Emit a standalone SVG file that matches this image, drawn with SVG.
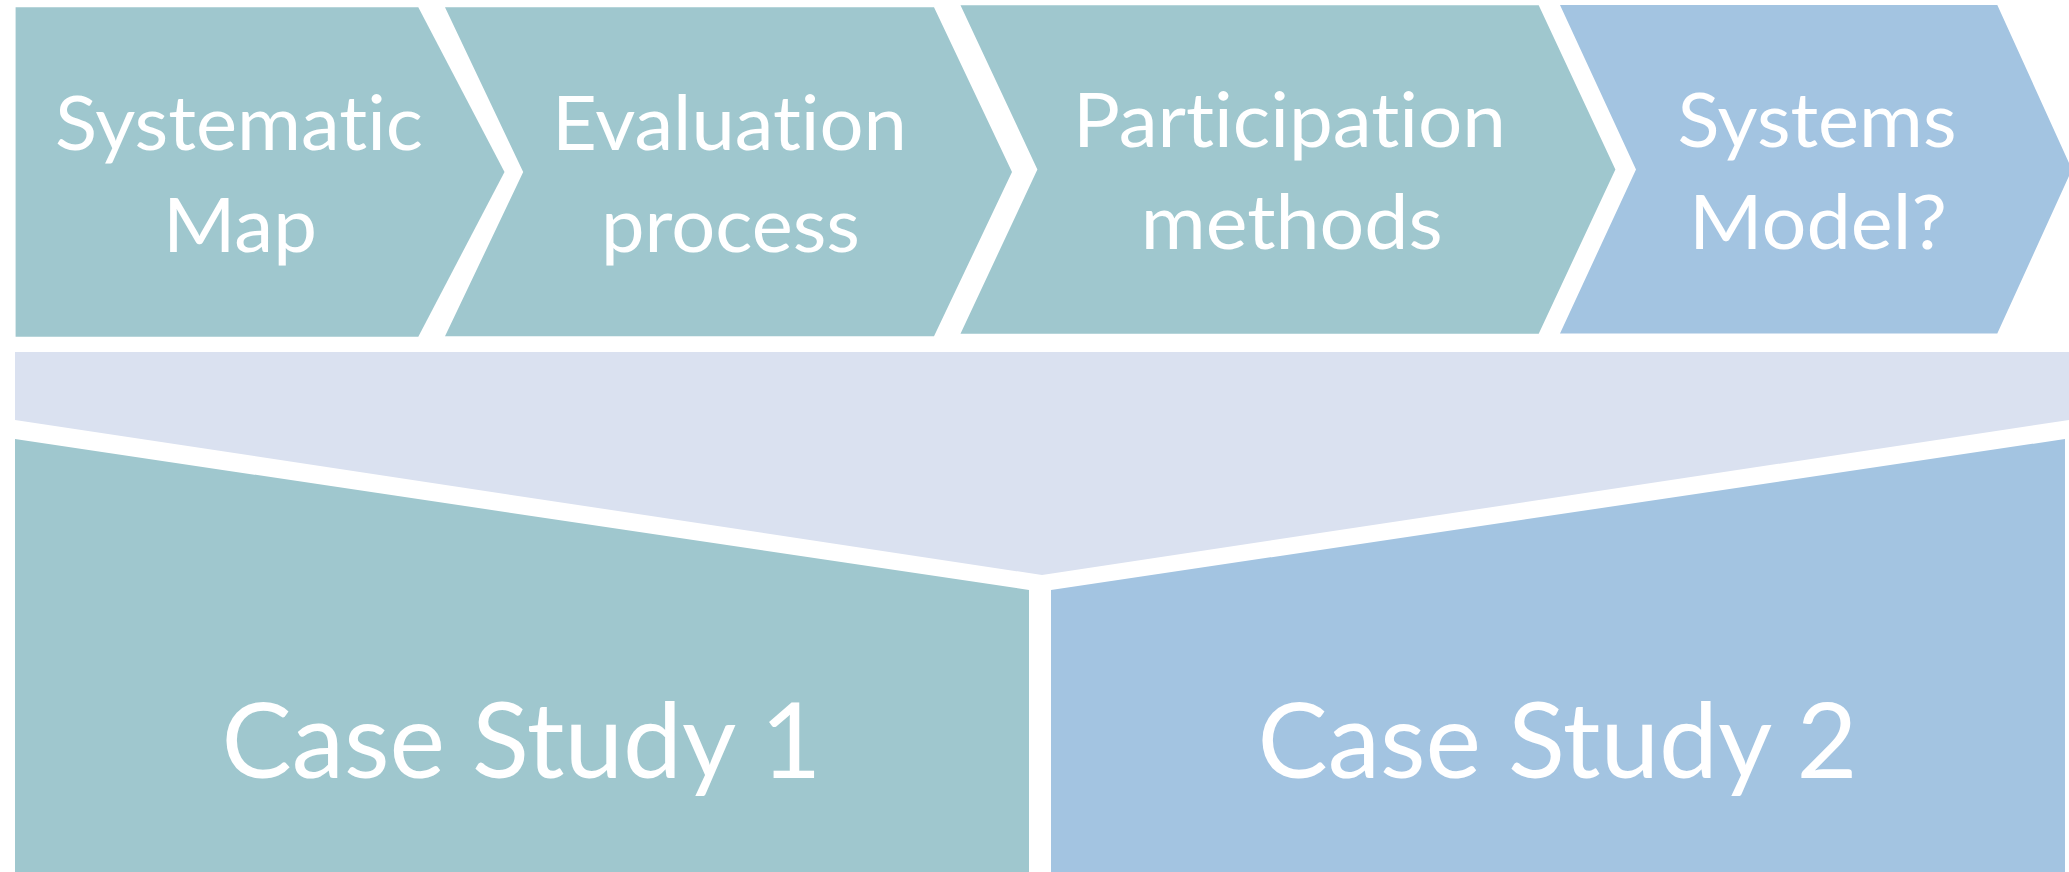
<svg xmlns="http://www.w3.org/2000/svg" width="2069" height="872" viewBox="0 0 2069 872">
<style>
.teal{fill:#9FC7CE}
.blue{fill:#A3C4E1}
.band{fill:#DAE1F0}
.lbl{font-family:Lato,"Open Sans","Liberation Sans",sans-serif;fill:#FFFFFF;font-size:75px;text-anchor:middle;font-variant-ligatures:none;font-feature-settings:"liga" 0,"clig" 0}
.big{font-size:105px}
</style>
<rect x="0" y="0" width="2069" height="872" fill="#FFFFFF"/>
<g id="chevron-systematic-map">
<polygon class="teal" points="15.6,7.3 418.3,7.3 504.5,172 418.3,336.7 15.6,336.7"/>
<text class="lbl" x="239" y="150" textLength="368" lengthAdjust="spacingAndGlyphs">Systematic</text>
<text class="lbl" x="240" y="251.7" textLength="154" lengthAdjust="spacingAndGlyphs">Map</text>
</g>
<g id="chevron-evaluation-process">
<polygon class="teal" points="445,7.3 934,7.3 1012,172 934,336.3 445,336.3 523.2,172"/>
<text class="lbl" x="729.5" y="150" textLength="355" lengthAdjust="spacingAndGlyphs">Evaluation</text>
<text class="lbl" x="730.5" y="251.7" textLength="259" lengthAdjust="spacingAndGlyphs">process</text>
</g>
<g id="chevron-participation-methods">
<polygon class="teal" points="960.5,5.3 1538.7,5.3 1615.4,169.5 1538.7,333.8 960.5,333.8 1037.4,169.5"/>
<text class="lbl" x="1289.5" y="147.3" textLength="433" lengthAdjust="spacingAndGlyphs">Participation</text>
<text class="lbl" x="1291.8" y="249.3" textLength="302" lengthAdjust="spacingAndGlyphs">methods</text>
</g>
<g id="chevron-systems-model">
<polygon class="blue" points="1560,5 1997.3,5 2072,169.5 1997.3,333.5 1560,333.5 1636,169.5"/>
<text class="lbl" x="1817" y="147.3" textLength="279" lengthAdjust="spacingAndGlyphs">Systems</text>
<text class="lbl" x="1818" y="249.3" textLength="258" lengthAdjust="spacingAndGlyphs">Model?</text>
</g>
<g id="band">
<polygon class="band" points="15,352 2069,352 2069,420 1042,575 15,420"/>
</g>
<g id="case-study-1">
<polygon class="teal" points="15,439 1029,590 1029,872 15,872"/>
<text class="lbl big" x="521.5" y="777.5" textLength="600" lengthAdjust="spacingAndGlyphs">Case Study 1</text>
</g>
<g id="case-study-2">
<polygon class="blue" points="1051,590 2065,439 2065,872 1051,872"/>
<text class="lbl big" x="1557.5" y="777.5" textLength="600" lengthAdjust="spacingAndGlyphs">Case Study 2</text>
</g>
<g id="connectors"/>
</svg>
